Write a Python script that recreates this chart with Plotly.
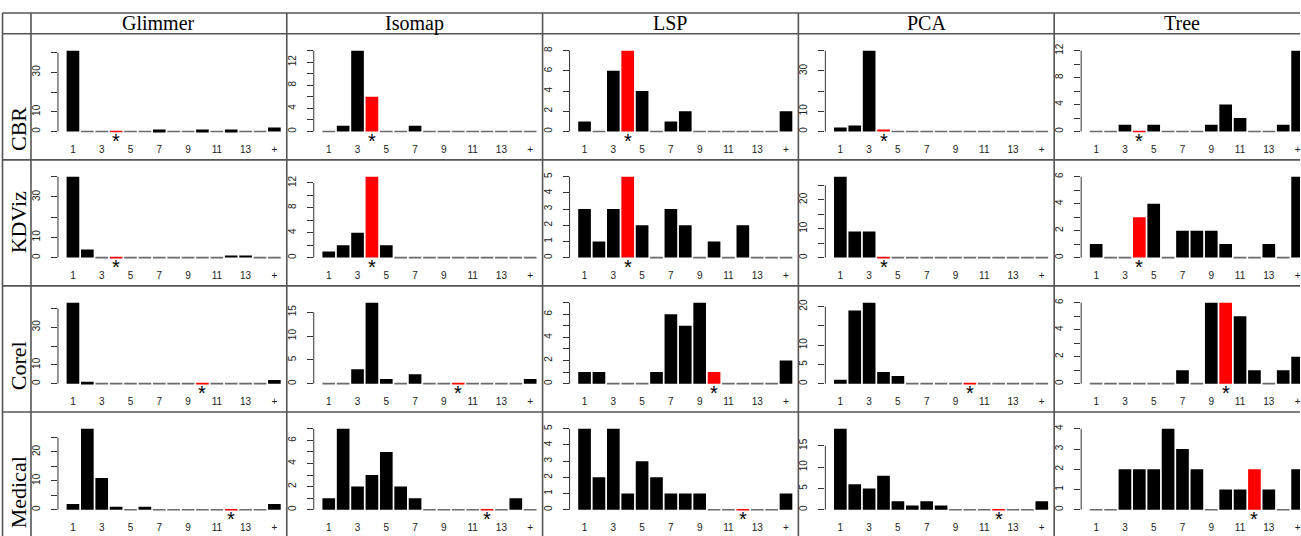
import math
import plotly.graph_objects as go

# ---------------- data ----------------
methods = ["Glimmer", "Isomap", "LSP", "PCA", "Tree"]
datasets = ["CBR", "KDViz", "Corel", "Medical"]
categories = [str(i) for i in range(1, 15)] + ["+"]
expected_dim = [4, 4, 10, 12]          # highlighted (starred) bar for each dataset row

glimmer_cbr = [41, 0, 0, 0, 0, 0, 1, 0, 0, 1, 0, 1, 0, 0, 2]
isomap_cbr = [0, 1, 14, 6, 0, 0, 1, 0, 0, 0, 0, 0, 0, 0, 0]
lsp_cbr = [1, 0, 6, 8, 4, 0, 1, 2, 0, 0, 0, 0, 0, 0, 2]
pca_cbr = [2, 3, 40, 1, 0, 0, 0, 0, 0, 0, 0, 0, 0, 0, 0]
tree_cbr = [0, 0, 1, 0, 1, 0, 0, 0, 1, 4, 2, 0, 0, 1, 12]

glimmer_kdviz = [40, 4, 0, 0, 0, 0, 0, 0, 0, 0, 0, 1, 1, 0, 0]
isomap_kdviz = [1, 2, 4, 13, 2, 0, 0, 0, 0, 0, 0, 0, 0, 0, 0]
lsp_kdviz = [3, 1, 3, 5, 2, 0, 3, 2, 0, 1, 0, 2, 0, 0, 0]
pca_kdviz = [28, 9, 9, 0, 0, 0, 0, 0, 0, 0, 0, 0, 0, 0, 0]
tree_kdviz = [1, 0, 0, 3, 4, 0, 2, 2, 2, 1, 0, 0, 1, 0, 6]

glimmer_corel = [43, 1, 0, 0, 0, 0, 0, 0, 0, 0, 0, 0, 0, 0, 2]
isomap_corel = [0, 0, 3, 17, 1, 0, 2, 0, 0, 0, 0, 0, 0, 0, 1]
lsp_corel = [1, 1, 0, 0, 0, 1, 6, 5, 7, 1, 0, 0, 0, 0, 2]
pca_corel = [1, 19, 21, 3, 2, 0, 0, 0, 0, 0, 0, 0, 0, 0, 0]
tree_corel = [0, 0, 0, 0, 0, 0, 1, 0, 6, 6, 5, 1, 0, 1, 2]

glimmer_medical = [2, 28, 11, 1, 0, 1, 0, 0, 0, 0, 0, 0, 0, 0, 2]
isomap_medical = [1, 7, 2, 3, 5, 2, 1, 0, 0, 0, 0, 0, 0, 1, 0]
lsp_medical = [5, 2, 5, 1, 3, 2, 1, 1, 1, 0, 0, 0, 0, 0, 1]
pca_medical = [19, 6, 5, 8, 2, 1, 2, 1, 0, 0, 0, 0, 0, 0, 2]
tree_medical = [0, 0, 2, 2, 2, 4, 3, 2, 0, 1, 1, 2, 1, 0, 2]

grid_values = [
    [glimmer_cbr, isomap_cbr, lsp_cbr, pca_cbr, tree_cbr],
    [glimmer_kdviz, isomap_kdviz, lsp_kdviz, pca_kdviz, tree_kdviz],
    [glimmer_corel, isomap_corel, lsp_corel, pca_corel, tree_corel],
    [glimmer_medical, isomap_medical, lsp_medical, pca_medical, tree_medical],
]

# ---------------- layout geometry (window pixels) ----------------
W, H = 1301, 536
TOP = 9
COL0, COLW = 31, 256
ROW0, ROWH = 30, 127
PX_UNIT = 14.4           # pixels per bar slot
BAR1_OFF = 42            # first bar centre from column left
AXIS_OFF = 27            # y axis from column left
BASE_OFF = 98.5          # baseline from row top
MAXTOP_OFF = 17.0        # top of tallest bar from row top
LINE = "#555555"
TICKFONT = dict(family="Liberation Sans, Arial, sans-serif", size=10, color="#222222")
SERIF = "Liberation Serif, Times New Roman, serif"


def px(xw):
    return xw / W


def py(yw):
    return 1 - yw / H


def r_pretty_unit(lo, hi, n=5, h=0.8, h5=1.7):
    cell = (hi - lo) / n
    base = 10 ** math.floor(math.log10(cell))
    unit = base
    if 2 * base - cell < h * (cell - unit):
        unit = 2 * base
        if 5 * base - cell < h5 * (cell - unit):
            unit = 5 * base
            if 10 * base - cell < h * (cell - unit):
                unit = 10 * base
    return unit


def label_texts(ticks, px_per_unit, char_w=6.0, gap=9.0):
    out, last_end = [], None
    for t in ticks:
        txt = str(int(t)) if float(t).is_integer() else str(t)
        w = char_w * len(txt)
        pos = t * px_per_unit
        lo, hi = pos - w / 2, pos + w / 2
        if last_end is None or lo - last_end >= gap:
            out.append(txt)
            last_end = hi
        else:
            out.append("")
    return out


fig = go.Figure()
layout = {}
shapes = []
annotations = []
xpos = list(range(1, len(categories) + 1))

k = 0
for r, dname in enumerate(datasets):
    for c, mname in enumerate(methods):
        k += 1
        vals = grid_values[r][c]
        xa = "x" if k == 1 else f"x{k}"
        ya = "y" if k == 1 else f"y{k}"
        star = expected_dim[r]
        colors = ["#FF0000" if i == star else "#000000" for i in xpos]

        # zero-height bars drawn as short baseline strokes
        for want_red in (False, True):
            zx, zy = [], []
            for i, v in zip(xpos, vals):
                if v == 0 and ((i == star) == want_red):
                    zx += [i - 0.44, i + 0.44, None]
                    zy += [0, 0, None]
            if zx:
                fig.add_trace(go.Scatter(x=zx, y=zy, mode="lines", xaxis=xa, yaxis=ya,
                                         line=dict(color="#FF0000" if want_red else "#6a6a6a", width=1.6),
                                         hoverinfo="skip", showlegend=False))
        fig.add_trace(go.Bar(x=xpos, y=vals, xaxis=xa, yaxis=ya, marker=dict(color=colors, line=dict(width=0)),
                             showlegend=False, hovertemplate=f"{dname} / {mname}<br>%{{x}}: %{{y}}<extra></extra>"))

        # x geometry
        colL = COL0 + COLW * c
        left_px = colL + AXIS_OFF
        right_px = min(colL + COLW, W)
        x0 = 1 - (BAR1_OFF - AXIS_OFF) / PX_UNIT
        x1 = x0 + (right_px - left_px) / PX_UNIT
        # y geometry
        M = max(vals)
        rowT = ROW0 + ROWH * r
        span = BASE_OFF - MAXTOP_OFF
        top_px = rowT + MAXTOP_OFF - 0.04 * span
        bot_px = rowT + BASE_OFF + 0.04 * span
        ylo, yhi = -0.04 * M, 1.04 * M
        unit = r_pretty_unit(ylo, yhi)
        ticks = [unit * j for j in range(0, int(math.floor(yhi / unit + 1e-9)) + 1)]
        texts = label_texts(ticks, span / M)

        layout[("xaxis" if k == 1 else f"xaxis{k}")] = dict(
            domain=[px(left_px), min(1.0, px(right_px))], range=[x0, x1], anchor=ya,
            tickmode="array", tickvals=xpos[::2], ticktext=categories[::2],
            ticks="", showline=False, showgrid=False, zeroline=False,
            ticklabeloverflow="allow",
            tickfont=TICKFONT, ticklabelstandoff=7, fixedrange=True)
        layout[("yaxis" if k == 1 else f"yaxis{k}")] = dict(
            domain=[py(bot_px), py(top_px)], range=[ylo, yhi], anchor=xa,
            tickmode="array", tickvals=ticks, ticktext=texts, tickangle=-90,
            ticks="outside", ticklen=6, tickwidth=1, tickcolor="#333333",
            showline=False, showgrid=False, zeroline=False,
            tickfont=TICKFONT, ticklabelstandoff=7, fixedrange=True)

        # y axis line from 0 to the last tick (R style)
        shapes.append(dict(type="line", xref=f"{xa} domain", yref=ya, x0=0, x1=0,
                           y0=ticks[0], y1=ticks[-1], line=dict(color="#333333", width=1)))
        # star under the expected bar
        annotations.append(dict(x=star, y=0, xref=xa, yref=ya, text="*", showarrow=False,
                                font=dict(family="Liberation Sans, Arial", size=20, color="black"),
                                yanchor="middle", yshift=-9))

# ---------------- table frame ----------------
def hline(ypx, x0px=2.5, x1px=W):
    shapes.append(dict(type="line", xref="paper", yref="paper", x0=px(x0px), x1=px(x1px),
                       y0=py(ypx), y1=py(ypx), line=dict(color=LINE, width=1.6)))


def vline(xpx, y0px=TOP, y1px=H):
    shapes.append(dict(type="line", xref="paper", yref="paper", x0=px(xpx), x1=px(xpx),
                       y0=py(y0px), y1=py(y1px), line=dict(color=LINE, width=1.6)))


hline(TOP)
for r in range(len(datasets)):
    hline(ROW0 + ROWH * r)
vline(2.5)
for c in range(len(methods)):
    vline(COL0 + COLW * c)

for c, mname in enumerate(methods):
    annotations.append(dict(x=px(COL0 + COLW * c + COLW / 2), y=py(19.5), xref="paper", yref="paper",
                            text=mname, showarrow=False, xanchor="center", yanchor="middle",
                            font=dict(family=SERIF, size=20, color="black")))

row_label_centers = [126, 220, 364, 492]
for r, dname in enumerate(datasets):
    annotations.append(dict(x=px(18), y=py(row_label_centers[r]), xref="paper", yref="paper",
                            text=dname, showarrow=False, textangle=-90, xanchor="center", yanchor="middle",
                            font=dict(family=SERIF, size=22, color="black")))

fig.update_layout(width=W, height=H, margin=dict(l=0, r=0, t=0, b=0),
                  paper_bgcolor="white", plot_bgcolor="white", bargap=0.12,
                  shapes=shapes, annotations=annotations, **layout)

fig.write_html("out.html", config={"displayModeBar": False},
               post_script="document.body.style.margin='0';document.body.style.overflow='hidden';")
